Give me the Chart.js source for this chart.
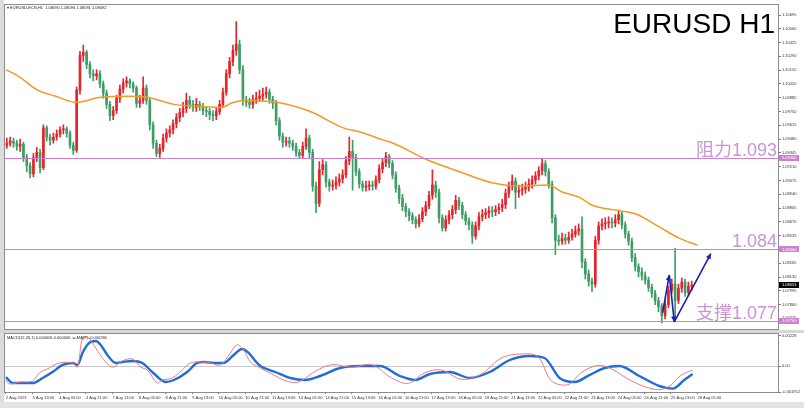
<!DOCTYPE html>
<html>
<head>
<meta charset="utf-8">
<script src="https://cdn.jsdelivr.net/npm/chart.js@4.4.0/dist/chart.umd.min.js"></script>
<style>
  html, body { margin: 0; padding: 0; background: #ffffff; }
  body { width: 804px; height: 408px; position: relative; overflow: hidden; }
  canvas { position: absolute; left: 0; }
  #main { top: 0; }
  #macd { top: 330px; }
  #foot { position: absolute; left: 0; top: 402px; width: 804px; height: 6px; background: #e4e4e4; }
  #leftbar { position: absolute; left: 0; top: 0; width: 4px; height: 402px; background: #dcdcdc; }
</style>
</head>
<body>
<div id="leftbar"></div>
<canvas id="main" width="804" height="330"></canvas>
<canvas id="macd" width="804" height="72"></canvas>
<div id="foot"></div>
<script>
// time axis labels, one every 16 hourly bars
const tickLabels = ['2 Aug 2023', '3 Aug 13:00', '4 Aug 05:00', '4 Aug 21:00', '7 Aug 13:00', '8 Aug 05:00',
    '8 Aug 21:00', '9 Aug 13:00', '10 Aug 05:00', '10 Aug 21:00', '11 Aug 13:00', '14 Aug 05:00',
    '14 Aug 21:00', '15 Aug 13:00', '16 Aug 05:00', '16 Aug 21:00', '17 Aug 13:00', '18 Aug 05:00',
    '18 Aug 21:00', '21 Aug 13:00', '22 Aug 05:00', '22 Aug 21:00', '23 Aug 13:00', '24 Aug 05:00',
    '24 Aug 21:00', '25 Aug 13:00', '28 Aug 05:00'];

const priceTicks = [1.07725, 1.07860, 1.07995, 1.08130, 1.08265, 1.08400, 1.08535, 1.08670, 1.08805,
    1.08940, 1.09075, 1.09210, 1.09345, 1.09480, 1.09615, 1.09750, 1.09885, 1.10020, 1.10155, 1.10290,
    1.10425, 1.10560, 1.10695];

// 2-hour candles
const firstOpen = 1.0942;
const closes = [
    1.0944, 1.0946, 1.0944, 1.0941, 1.0943, 1.0930, 1.0922, 1.0914, 1.0930, 1.0935,
    1.0920, 1.0959, 1.0950, 1.0947, 1.0950, 1.0953, 1.0957, 1.0958, 1.0954, 1.0942,
    1.0937, 1.0996, 1.1030, 1.1033, 1.1021, 1.1012, 1.1010, 1.1012, 1.1002, 1.0993,
    1.0982, 1.0971, 1.0976, 1.0988, 1.0997, 1.1003, 1.1005, 1.1002, 1.0998, 1.0983,
    1.0986, 1.0998, 1.0986, 1.0962, 1.0944, 1.0934, 1.0939, 1.0949, 1.0954, 1.0957,
    1.0963, 1.0969, 1.0974, 1.0978, 1.0986, 1.0982, 1.0979, 1.0982, 1.0980, 1.0976,
    1.0975, 1.0972, 1.0971, 1.0975, 1.0982, 1.0994, 1.1012, 1.1024, 1.1035, 1.1041,
    1.1016, 1.0986, 1.0984, 1.0982, 1.0987, 1.0988, 1.0990, 1.0992, 1.0994, 1.0987,
    1.0983, 1.0966, 1.0951, 1.0945, 1.0946, 1.0944, 1.0941, 1.0935, 1.0932, 1.0941,
    1.0949, 1.0935, 1.0902, 1.0885, 1.0918, 1.0923, 1.0906, 1.0902, 1.0903, 1.0906,
    1.0909, 1.0913, 1.0927, 1.0936, 1.0930, 1.0916, 1.0904, 1.0901, 1.0902, 1.0903,
    1.0902, 1.0908, 1.0919, 1.0925, 1.0931, 1.0924, 1.0913, 1.0900, 1.0890, 1.0882,
    1.0877, 1.0873, 1.0869, 1.0865, 1.0870, 1.0877, 1.0883, 1.0893, 1.0903, 1.0896,
    1.0871, 1.0861, 1.0869, 1.0874, 1.0879, 1.0888, 1.0883, 1.0874, 1.0868, 1.0864,
    1.0853, 1.0863, 1.0872, 1.0874, 1.0876, 1.0878, 1.0877, 1.0879, 1.0881, 1.0884,
    1.0895, 1.0902, 1.0907, 1.0896, 1.0898, 1.0899, 1.0901, 1.0904, 1.0908, 1.0912,
    1.0917, 1.0924, 1.0916, 1.0904, 1.0871, 1.0849, 1.0848, 1.0851, 1.0849, 1.0852,
    1.0855, 1.0858, 1.0860, 1.0828, 1.0816, 1.0809, 1.0806, 1.0849, 1.0863, 1.0865,
    1.0866, 1.0867, 1.0866, 1.0869, 1.0874, 1.0864, 1.0855, 1.0848, 1.0832, 1.0823,
    1.0818, 1.0814, 1.0810, 1.0803, 1.0797, 1.0790, 1.0784, 1.0775, 1.0786, 1.0800,
    1.0806, 1.0790, 1.0802, 1.0808, 1.0798, 1.0804, 1.0805
];
const highs = [
    1.0949, 1.0950, 1.0949, 1.0947, 1.0948, 1.0945, 1.0933, 1.0925, 1.0934, 1.0940,
    1.0938, 1.0962, 1.0961, 1.0953, 1.0954, 1.0957, 1.0960, 1.0962, 1.0960, 1.0956,
    1.0945, 1.0999, 1.1034, 1.1040, 1.1035, 1.1024, 1.1016, 1.1016, 1.1015, 1.1005,
    1.0996, 1.0985, 1.0980, 1.0991, 1.1001, 1.1007, 1.1009, 1.1007, 1.1004, 1.1000,
    1.0991, 1.1009, 1.1001, 1.0989, 1.0965, 1.0947, 1.0943, 1.0953, 1.0958, 1.0961,
    1.0967, 1.0973, 1.0978, 1.0984, 1.0993, 1.0990, 1.0986, 1.0988, 1.0985, 1.0983,
    1.0980, 1.0978, 1.0976, 1.0979, 1.0986, 1.0998, 1.1016, 1.1028, 1.1040, 1.1063,
    1.1045, 1.1020, 1.0990, 1.0988, 1.0991, 1.0994, 1.0996, 1.0998, 1.0999, 1.0997,
    1.0990, 1.0986, 1.0969, 1.0954, 1.0950, 1.0950, 1.0947, 1.0944, 1.0938, 1.0945,
    1.0958, 1.0952, 1.0938, 1.0906, 1.0926, 1.0928, 1.0926, 1.0909, 1.0908, 1.0911,
    1.0914, 1.0918, 1.0931, 1.0950, 1.0947, 1.0933, 1.0919, 1.0907, 1.0907, 1.0907,
    1.0907, 1.0912, 1.0923, 1.0929, 1.0935, 1.0933, 1.0927, 1.0916, 1.0903, 1.0894,
    1.0885, 1.0880, 1.0876, 1.0872, 1.0874, 1.0881, 1.0887, 1.0897, 1.0918, 1.0907,
    1.0899, 1.0874, 1.0873, 1.0878, 1.0883, 1.0893, 1.0891, 1.0886, 1.0877, 1.0871,
    1.0867, 1.0867, 1.0876, 1.0879, 1.0880, 1.0882, 1.0882, 1.0883, 1.0885, 1.0889,
    1.0899, 1.0906, 1.0913, 1.0910, 1.0903, 1.0904, 1.0906, 1.0909, 1.0912, 1.0916,
    1.0921, 1.0929, 1.0927, 1.0919, 1.0907, 1.0874, 1.0854, 1.0856, 1.0855, 1.0857,
    1.0860, 1.0863, 1.0865, 1.0872, 1.0831, 1.0820, 1.0812, 1.0853, 1.0867, 1.0870,
    1.0871, 1.0872, 1.0871, 1.0874, 1.0878, 1.0877, 1.0867, 1.0858, 1.0851, 1.0836,
    1.0826, 1.0822, 1.0818, 1.0813, 1.0806, 1.0800, 1.0793, 1.0787, 1.0790, 1.0804,
    1.0811, 1.0841, 1.0806, 1.0812, 1.0811, 1.0808, 1.0809
];
const lows = [
    1.0939, 1.0941, 1.0940, 1.0937, 1.0936, 1.0926, 1.0916, 1.0910, 1.0911, 1.0926,
    1.0915, 1.0918, 1.0946, 1.0942, 1.0944, 1.0947, 1.0950, 1.0953, 1.0950, 1.0939,
    1.0933, 1.0935, 1.0992, 1.1024, 1.1017, 1.1008, 1.1005, 1.1006, 1.0998, 1.0988,
    1.0978, 1.0966, 1.0967, 1.0973, 1.0984, 1.0993, 1.0999, 1.0998, 1.0994, 1.0979,
    1.0979, 1.0983, 1.0982, 1.0957, 1.0939, 1.0931, 1.0930, 1.0936, 1.0945, 1.0950,
    1.0953, 1.0959, 1.0965, 1.0970, 1.0974, 1.0978, 1.0975, 1.0975, 1.0976, 1.0972,
    1.0970, 1.0967, 1.0966, 1.0967, 1.0972, 1.0979, 1.0991, 1.1008, 1.1020, 1.1030,
    1.1012, 1.0981, 1.0980, 1.0978, 1.0978, 1.0983, 1.0985, 1.0986, 1.0988, 1.0983,
    1.0978, 1.0962, 1.0947, 1.0940, 1.0941, 1.0940, 1.0937, 1.0931, 1.0929, 1.0929,
    1.0938, 1.0930, 1.0897, 1.0876, 1.0882, 1.0913, 1.0901, 1.0897, 1.0898, 1.0899,
    1.0902, 1.0905, 1.0910, 1.0923, 1.0898, 1.0912, 1.0900, 1.0897, 1.0897, 1.0898,
    1.0898, 1.0899, 1.0905, 1.0915, 1.0921, 1.0920, 1.0909, 1.0896, 1.0885, 1.0878,
    1.0872, 1.0868, 1.0865, 1.0861, 1.0862, 1.0867, 1.0873, 1.0880, 1.0889, 1.0891,
    1.0866, 1.0858, 1.0858, 1.0865, 1.0870, 1.0875, 1.0879, 1.0870, 1.0864, 1.0859,
    1.0846, 1.0850, 1.0859, 1.0868, 1.0870, 1.0871, 1.0872, 1.0873, 1.0875, 1.0877,
    1.0880, 1.0891, 1.0898, 1.0880, 1.0891, 1.0893, 1.0895, 1.0897, 1.0900, 1.0904,
    1.0908, 1.0913, 1.0912, 1.0900, 1.0866, 1.0835, 1.0844, 1.0845, 1.0845, 1.0846,
    1.0849, 1.0852, 1.0854, 1.0822, 1.0811, 1.0804, 1.0799, 1.0803, 1.0845, 1.0859,
    1.0860, 1.0861, 1.0861, 1.0862, 1.0865, 1.0860, 1.0851, 1.0844, 1.0828, 1.0819,
    1.0813, 1.0810, 1.0806, 1.0799, 1.0793, 1.0786, 1.0779, 1.0768, 1.0772, 1.0783,
    1.0797, 1.0769, 1.0787, 1.0798, 1.0794, 1.0795, 1.0800
];

// orange moving average, read at a few hours along the curve
const maHours = [0, 8, 19, 30, 42, 57, 76, 85, 101, 117, 129, 137, 145, 156, 163, 183, 203, 213, 227, 233,
    253, 273, 293, 309, 326, 335, 345, 353, 369, 380, 393, 405, 416];
const maValues = [1.1016, 1.1009, 1.0996, 1.0990, 1.0984, 1.0989, 1.0990, 1.0989, 1.0982, 1.0980, 1.0979,
    1.0984, 1.0986, 1.0985, 1.0984, 1.0975, 1.0959, 1.0955, 1.0947, 1.0944, 1.0928, 1.0916, 1.0905,
    1.0902, 1.0903, 1.0896, 1.0891, 1.0883, 1.0878, 1.0874, 1.0862, 1.0851, 1.0844];

// MACD panel
const macdHours = [0, 4, 16, 22, 28, 34, 40, 43, 46, 50, 54, 57, 61, 66, 70, 76, 82, 88, 96, 101, 109, 115,
    119, 125, 131, 137, 142, 146, 151, 153, 162, 171, 180, 189, 201, 213, 225, 237, 246, 255, 267, 279,
    291, 303, 315, 324, 333, 342, 351, 360, 369, 381, 393, 401, 408, 413];
const macdMain = [-0.00083, -0.00128, -0.00128, -0.00090, -0.00045, 0.00008, 0.00023, 0.00008, 0.00098,
    0.00173, 0.00188, 0.00158, 0.00083, 0.00023, 0.00030, 0.00038, 0.00023, -0.00045, -0.00120, -0.00105,
    -0.00045, 0.00023, 0.00030, 0.00023, 0.00023, 0.00083, 0.00128, 0.00098, 0.00023, 0.00000, -0.00045,
    -0.00090, -0.00105, -0.00075, -0.00015, 0.00000, 0.00000, -0.00075, -0.00105, -0.00060, -0.00045,
    -0.00090, -0.00045, 0.00045, 0.00075, 0.00060, -0.00090, -0.00120, -0.00068, -0.00015, 0.00000,
    -0.00075, -0.00150, -0.00170, -0.00105, -0.00060];
const signalHours = [0, 2, 8, 16, 20, 26, 32, 40, 43, 46, 49, 52, 58, 64, 70, 76, 81, 85, 91, 94, 100, 106,
    111, 117, 123, 129, 135, 139, 143, 147, 152, 160, 168, 176, 186, 196, 208, 220, 232, 242, 252, 262,
    274, 286, 298, 310, 320, 328, 338, 346, 356, 364, 376, 390, 398, 406, 413];
const signalLine = [-0.00105, -0.00135, -0.00120, -0.00113, -0.00053, -0.00015, 0.00023, 0.00023, -0.00008,
    0.00210, 0.00218, 0.00173, 0.00060, -0.00008, 0.00038, 0.00053, -0.00008, -0.00030, -0.00128, -0.00105,
    -0.00090, -0.00030, 0.00023, 0.00030, 0.00023, 0.00008, 0.00098, 0.00158, 0.00120, 0.00030, -0.00008,
    -0.00060, -0.00110, -0.00120, -0.00040, 0.00010, -0.00010, 0.00010, -0.00090, -0.00130, -0.00050,
    -0.00030, -0.00100, -0.00060, 0.00060, 0.00090, 0.00070, -0.00110, -0.00140, -0.00050, 0.00005,
    -0.00020, -0.00110, -0.00175, -0.00160, -0.00070, -0.00030];
const macdTicks = [-0.001952, 0, 0.00228];
const macdTickText = ['-0.001952', '0.00', '0.00228'];

// drawn levels and the blue zig-zag
const levelPrices = [1.093, 1.084, 1.077];
const levelTexts = ['阻力1.093', '1.084', '支撑1.077'];
const levelTags = ['1.09300', '1.08400', '1.07700'];
const lastPrice = 1.08053;
const arrowHours = [395, 399, 402, 424];
const arrowPrices = [1.0778, 1.0815, 1.0769, 1.0836];

const X_MIN = -0.6;
const X_MAX = 464.4;
const BULL = '#e4262c';
const BEAR = '#3c9e66';
const LEVEL = '#cf7fd0';
const LEVEL_TEXT = '#c995d4';
const TINY = '4px "Liberation Sans", Arial, sans-serif';
const TINY_FONT = { family: '"Liberation Sans", Arial, sans-serif', size: 4 };

const candles = closes.map((c, k) => ({
    x: 2 * k + 0.5,
    o: k === 0 ? firstOpen : closes[k - 1],
    c: c,
    h: highs[k],
    l: lows[k]
}));
const candleColor = candles.map((d) => (d.c >= d.o ? BULL : BEAR));

// keep every panel the same width and stop label padding from shrinking the plot
function fixWidth(w) {
    return (scale) => {
        scale.width = w;
        scale.paddingTop = 0;
        scale.paddingBottom = 0;
    };
}

function drawArrowHead(ctx, x0, y0, x1, y1) {
    const a = Math.atan2(y1 - y0, x1 - x0);
    const len = 6;
    ctx.beginPath();
    ctx.moveTo(x1, y1);
    ctx.lineTo(x1 - len * Math.cos(a - 0.45), y1 - len * Math.sin(a - 0.45));
    ctx.lineTo(x1 - len * Math.cos(a + 0.45), y1 - len * Math.sin(a + 0.45));
    ctx.closePath();
    ctx.fill();
}

function tag(ctx, y, text, bg) {
    ctx.fillStyle = bg;
    ctx.fillRect(779, Math.round(y) - 3, 20, 6);
    ctx.fillStyle = '#ffffff';
    ctx.font = TINY;
    ctx.textAlign = 'left';
    ctx.textBaseline = 'middle';
    ctx.fillText(text, 782, y);
}

const mainOverlay = {
    id: 'mainOverlay',
    afterDatasetsDraw(chart) {
        const { ctx, chartArea, scales } = chart;
        const xs = scales.x;
        const ys = scales.y;
        ctx.save();
        // horizontal levels
        ctx.strokeStyle = LEVEL;
        ctx.lineWidth = 1.2;
        levelPrices.forEach((p) => {
            const y = Math.round(ys.getPixelForValue(p)) + 0.5;
            ctx.beginPath();
            ctx.moveTo(chartArea.left, y);
            ctx.lineTo(chartArea.right, y);
            ctx.stroke();
        });
        // blue zig-zag with arrow heads
        ctx.strokeStyle = '#1c1fb0';
        ctx.fillStyle = '#1c1fb0';
        ctx.lineWidth = 1.6;
        for (let i = 0; i < arrowHours.length - 1; i++) {
            const x0 = xs.getPixelForValue(arrowHours[i]);
            const y0 = ys.getPixelForValue(arrowPrices[i]);
            const x1 = xs.getPixelForValue(arrowHours[i + 1]);
            const y1 = ys.getPixelForValue(arrowPrices[i + 1]);
            ctx.beginPath();
            ctx.moveTo(x0, y0);
            ctx.lineTo(x1, y1);
            ctx.stroke();
            drawArrowHead(ctx, x0, y0, x1, y1);
        }
        ctx.restore();
    },
    afterDraw(chart) {
        const { ctx, chartArea, scales } = chart;
        const ys = scales.y;
        ctx.save();
        // frame
        ctx.strokeStyle = '#8c8c8c';
        ctx.lineWidth = 1;
        ctx.strokeRect(chartArea.left - 0.5, chartArea.top - 0.5,
            chartArea.right - chartArea.left + 1, chartArea.bottom - chartArea.top + 1);
        // level captions
        ctx.font = '18px "Liberation Sans", "Noto Sans CJK SC", sans-serif';
        ctx.fillStyle = LEVEL_TEXT;
        ctx.textAlign = 'right';
        ctx.textBaseline = 'alphabetic';
        levelPrices.forEach((p, i) => {
            ctx.fillText(levelTexts[i], 777, ys.getPixelForValue(p) - 2);
        });
        // symbol title
        ctx.font = '28px "Liberation Sans", Arial, sans-serif';
        ctx.fillStyle = '#000000';
        ctx.fillText('EURUSD H1', 775, 33);
        // header line
        ctx.font = TINY;
        ctx.textAlign = 'left';
        ctx.textBaseline = 'middle';
        ctx.fillStyle = '#222222';
        ctx.fillText('\u25BE EURUSD-ECN,H1  1.08090 1.08096 1.08091 1.08092', 7, 8);
        // axis tags
        levelPrices.forEach((p, i) => tag(ctx, ys.getPixelForValue(p), levelTags[i], LEVEL));
        tag(ctx, ys.getPixelForValue(lastPrice), lastPrice.toFixed(5), '#000000');
        ctx.restore();
    }
};

new Chart(document.getElementById('main'), {
    type: 'bar',
    data: {
        datasets: [
            {
                type: 'line',
                data: maHours.map((h, i) => ({ x: h, y: maValues[i] })),
                borderColor: '#f39a24',
                borderWidth: 1.5,
                pointRadius: 0,
                cubicInterpolationMode: 'monotone',
                order: 0
            },
            {
                data: candles.map((d) => ({ x: d.x, y: [d.l, d.h] })),
                backgroundColor: candleColor,
                barThickness: 1,
                grouped: false,
                order: 2
            },
            {
                data: candles.map((d) => ({ x: d.x, y: [d.o, d.c] })),
                backgroundColor: candleColor,
                barThickness: 2,
                minBarLength: 1,
                grouped: false,
                order: 1
            }
        ]
    },
    options: {
        responsive: false,
        animation: false,
        events: [],
        layout: { padding: { left: 5, right: 0, top: 5, bottom: 1 } },
        plugins: { legend: { display: false }, tooltip: { enabled: false } },
        scales: {
            x: { type: 'linear', display: false, min: X_MIN, max: X_MAX, offset: false },
            y: {
                position: 'right',
                min: 1.07621,
                max: 1.10793,
                afterFit: fixWidth(26),
                afterBuildTicks(scale) {
                    scale.ticks = priceTicks.map((v) => ({ value: v }));
                },
                ticks: {
                    callback: (v) => Number(v).toFixed(5),
                    font: TINY_FONT,
                    color: '#333333',
                    padding: 1,
                    autoSkip: false
                },
                grid: { drawOnChartArea: false, tickLength: 3, color: '#777777' },
                border: { display: false }
            }
        }
    },
    plugins: [mainOverlay]
});

const macdOverlay = {
    id: 'macdOverlay',
    beforeDatasetsDraw(chart) {
        const { ctx, chartArea, scales } = chart;
        ctx.save();
        ctx.fillStyle = '#d6d6d6';
        ctx.fillRect(0, 0, 804, 3);
        const y0 = Math.round(scales.y.getPixelForValue(0)) + 0.5;
        ctx.strokeStyle = '#c8c8c8';
        ctx.lineWidth = 1;
        ctx.beginPath();
        ctx.moveTo(chartArea.left, y0);
        ctx.lineTo(chartArea.right, y0);
        ctx.stroke();
        ctx.restore();
    },
    afterDraw(chart) {
        const { ctx, chartArea } = chart;
        ctx.save();
        ctx.strokeStyle = '#8c8c8c';
        ctx.lineWidth = 1;
        ctx.strokeRect(chartArea.left - 0.5, chartArea.top - 0.5,
            chartArea.right - chartArea.left + 1, chartArea.bottom - chartArea.top + 1);
        ctx.font = TINY;
        ctx.fillStyle = '#222222';
        ctx.textAlign = 'left';
        ctx.textBaseline = 'middle';
        ctx.fillText('MACD(12,26,1) 0.000006 0.000006  w-MA(9) -0.000284', 7, 7.5);
        ctx.restore();
    }
};

new Chart(document.getElementById('macd'), {
    type: 'line',
    data: {
        datasets: [
            {
                data: signalHours.map((h, i) => ({ x: h, y: signalLine[i] })),
                borderColor: '#f07a78',
                borderWidth: 1,
                pointRadius: 0,
                tension: 0.35
            },
            {
                data: macdHours.map((h, i) => ({ x: h, y: macdMain[i] })),
                borderColor: '#1f6ddb',
                borderWidth: 2.4,
                pointRadius: 0,
                cubicInterpolationMode: 'monotone'
            }
        ]
    },
    options: {
        responsive: false,
        animation: false,
        events: [],
        layout: { padding: { left: 5, right: 0, top: 4, bottom: 0 } },
        plugins: { legend: { display: false }, tooltip: { enabled: false } },
        scales: {
            x: {
                type: 'linear',
                min: X_MIN,
                max: X_MAX,
                afterFit(scale) {
                    scale.height = 10;
                    scale.paddingLeft = 0;
                    scale.paddingRight = 0;
                },
                afterBuildTicks(scale) {
                    scale.ticks = tickLabels.map((_, j) => ({ value: j * 16 }));
                },
                ticks: {
                    callback: (v) => tickLabels[Math.round(v / 16)],
                    align: 'start',
                    maxRotation: 0,
                    minRotation: 0,
                    autoSkip: false,
                    padding: 1,
                    font: TINY_FONT,
                    color: '#333333'
                },
                grid: { drawOnChartArea: false, tickLength: 2, color: '#777777' },
                border: { display: false }
            },
            y: {
                position: 'right',
                min: -0.00195,
                max: 0.0024,
                afterFit: fixWidth(26),
                afterBuildTicks(scale) {
                    scale.ticks = macdTicks.map((v) => ({ value: v }));
                },
                ticks: {
                    callback: (v, i) => macdTickText[i],
                    font: TINY_FONT,
                    color: '#333333',
                    padding: 1,
                    autoSkip: false
                },
                grid: { drawOnChartArea: false, tickLength: 3, color: '#777777' },
                border: { display: false }
            }
        }
    },
    plugins: [macdOverlay]
});
</script>
</body>
</html>
